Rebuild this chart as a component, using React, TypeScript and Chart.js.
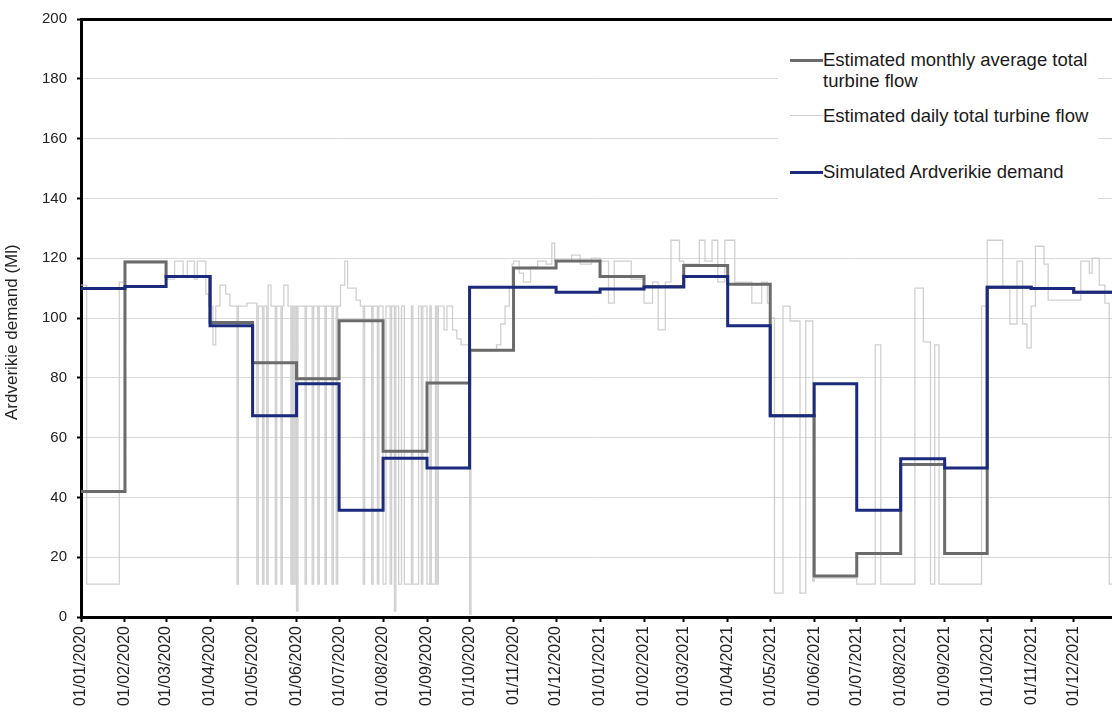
import { useEffect, useRef } from 'react';
import { Chart, registerables } from 'chart.js';

Chart.register(...registerables);

const FONT = "'Liberation Sans', Arial, sans-serif";

// month starts shown on the x axis
const tickLabels = [
  '01/01/2020', '01/02/2020', '01/03/2020', '01/04/2020', '01/05/2020', '01/06/2020',
  '01/07/2020', '01/08/2020', '01/09/2020', '01/10/2020', '01/11/2020', '01/12/2020',
  '01/01/2021', '01/02/2021', '01/03/2021', '01/04/2021', '01/05/2021', '01/06/2021',
  '01/07/2021', '01/08/2021', '01/09/2021', '01/10/2021', '01/11/2021', '01/12/2021',
];

// one value per month (Ml)
const monthlyAverageFlow = [
  42, 118.7, 113.9, 98.5, 85, 79.7, 99.1, 55.4, 78.3, 89.2, 116.7, 119.1,
  113.9, 110.5, 117.6, 111.3, 67.3, 13.7, 21.2, 51, 21.2, 110.3, 109.9, 108.6,
];
const simulatedDemand = [
  109.9, 110.5, 113.9, 97.4, 67.3, 78, 35.7, 53.1, 49.8, 110.3, 110.3, 108.6,
  109.7, 110.4, 113.9, 97.4, 67.3, 78, 35.7, 52.9, 49.8, 110.3, 109.9, 108.6,
];

// daily flow, stored as the day (since 01/01/2020) where the value changes and the new value
const dailyChangeDays = [
  0, 4, 27, 31, 60, 66, 72, 75, 80, 82, 88, 90,
  93, 95, 98, 102, 105, 110, 111, 117,
  124, 125, 128, 129, 131, 132, 134, 137, 138, 141, 142, 143, 146, 148, 149, 150, 151,
  152, 153, 158, 159, 163, 164, 167, 168, 172, 173, 177, 178, 180, 181,
  183, 186, 188, 194, 197, 199, 200, 205, 206, 209, 210,
  213, 215, 218, 219, 221, 222, 224, 226, 228, 233, 234, 238, 240, 241,
  244, 246, 247, 250, 251, 252, 256, 258, 262, 265, 268,
  274, 275, 293, 296, 299, 302, 304,
  305, 309, 312, 317, 322, 328, 332, 334, 346, 352, 360,
  366, 372, 376, 388,
  397, 403, 407, 412, 416, 422,
  425, 436, 440, 445, 449, 454,
  461, 473, 480, 484,
  486, 489, 495, 500, 507, 511, 516, 517,
  547, 560, 564,
  588, 594, 599, 602, 605,
  635, 639, 650, 655, 660, 664, 667, 670,
  673, 679, 682,
  705, 711, 713, 718, 722, 725, 727,
];
const dailyTotalFlow = [
  111, 11, 112, 119, 113, 119, 114, 119, 113, 119, 108, 104,
  91, 104, 111, 108, 104, 11, 104, 105,
  11, 104, 11, 104, 11, 111, 104, 11, 104, 11, 104, 111, 104, 11, 104, 11, 104,
  2, 104, 11, 104, 11, 104, 11, 104, 11, 104, 11, 104, 11, 104,
  111, 119, 110, 106, 104, 11, 104, 11, 104, 11, 104,
  11, 104, 11, 104, 2, 104, 11, 104, 11, 104, 11, 104, 11, 104,
  11, 104, 11, 104, 11, 104, 96, 104, 96, 93, 91,
  1, 89, 91, 98, 104, 110, 118,
  119, 115, 112, 117, 119, 118, 125, 119, 121, 118, 120,
  119, 105, 119, 113,
  105, 112, 96, 112, 126, 119,
  118, 126, 119, 126, 112, 126,
  112, 105, 112, 105,
  100, 8, 104, 99, 8, 99, 12, 13,
  11, 91, 11,
  110, 92, 11, 91, 11,
  104, 126, 110, 98, 119, 98, 90, 104,
  124, 118, 106,
  119, 115, 120, 111, 105, 11, 11,
];

const lastDay = 727;

const dayOf = (label: string) => {
  const [d, m, y] = label.split('/').map(Number);
  return (Date.UTC(y, m - 1, d) - Date.UTC(2020, 0, 1)) / 86400000;
};
const monthStartDays = tickLabels.map(dayOf);

const monthlyPoints = (values: number[]) =>
  values
    .map((y, i) => ({ x: monthStartDays[i], y }))
    .concat({ x: lastDay, y: values[values.length - 1] });

const legendItems = [
  { text: 'Estimated monthly average total turbine flow', color: '#6b6b6b', width: 3, top: 49 },
  { text: 'Estimated daily total turbine flow', color: '#cfcfcf', width: 1.5, top: 105 },
  { text: 'Simulated Ardverikie demand', color: '#1b2a7c', width: 3, top: 161 },
];

const TurbineFlowChart = () => {
  const chartRef = useRef<HTMLCanvasElement>(null);

  useEffect(() => {
    document.body.style.margin = '0';
    const ctx = chartRef.current?.getContext('2d');
    if (!ctx) return;

    const chartInstance = new Chart(ctx, {
      type: 'line',
      data: {
        datasets: [
          {
            label: 'Simulated Ardverikie demand',
            data: monthlyPoints(simulatedDemand),
            borderColor: '#1b2a7c',
            borderWidth: 3,
            stepped: 'before', // value holds until the next month starts
            pointRadius: 0,
            order: 0,
          },
          {
            label: 'Estimated monthly average total turbine flow',
            data: monthlyPoints(monthlyAverageFlow),
            borderColor: '#6b6b6b',
            borderWidth: 3,
            stepped: 'before',
            pointRadius: 0,
            order: 1,
          },
          {
            label: 'Estimated daily total turbine flow',
            data: dailyChangeDays.map((x, i) => ({ x, y: dailyTotalFlow[i] })),
            borderColor: 'rgba(200, 200, 200, 0.85)',
            borderWidth: 1.3,
            stepped: 'before',
            pointRadius: 0,
            order: 2,
          },
        ],
      },
      options: {
        animation: false,
        responsive: true,
        maintainAspectRatio: false,
        layout: { padding: { top: 17, right: 0, bottom: 0, left: 0 } },
        plugins: { legend: { display: false }, tooltip: { enabled: false } },
        scales: {
          x: {
            type: 'linear',
            min: 0,
            max: lastDay,
            bounds: 'data',
            afterBuildTicks: (scale) => {
              scale.ticks = monthStartDays.map((value) => ({ value }));
            },
            afterFit: (scale) => {
              scale.height = 96;
            },
            ticks: {
              autoSkip: false,
              maxRotation: 90,
              minRotation: 90,
              padding: 4,
              color: '#222',
              font: { family: FONT, size: 16 },
              callback: (_v, i) => tickLabels[i],
            },
            grid: { drawOnChartArea: false, drawTicks: true, tickLength: 5, tickColor: '#000', tickWidth: 2 },
            border: { color: '#000', width: 3 },
          },
          y: {
            min: 0,
            max: 200,
            afterFit: (scale) => {
              scale.width = 81;
            },
            ticks: {
              stepSize: 20,
              padding: 10,
              color: '#222',
              font: { family: FONT, size: 15 },
            },
            grid: {
              color: (c) => (c.tick?.value === 200 ? '#000' : '#dadada'),
              lineWidth: (c) => (c.tick?.value === 200 ? 3 : 1),
              tickColor: '#000',
              tickLength: 4,
              tickWidth: 2,
            },
            border: { color: '#000', width: 3 },
            title: {
              display: true,
              text: 'Ardverikie demand (Ml)\u00a0\u00a0\u00a0\u00a0\u00a0\u00a0',
              color: '#222',
              font: { family: FONT, size: 17 },
              padding: { top: 2, bottom: 0 },
            },
          },
        },
      },
    });

    return () => chartInstance.destroy();
  }, []);

  return (
    <div style={{ position: 'relative', width: 1112, height: 713, background: '#fff', fontFamily: FONT }}>
      <canvas ref={chartRef} />

      {/* legend box, sits over the grid lines like the original */}
      <div style={{ position: 'absolute', left: 778, top: 30, width: 320, height: 182, background: '#fff' }} />
      {legendItems.map((item) => (
        <div
          key={item.text}
          style={{ position: 'absolute', left: 790, top: item.top, display: 'flex', alignItems: 'flex-start' }}
        >
          <span
            style={{
              display: 'inline-block',
              width: 33,
              height: 0,
              marginTop: 11 - item.width / 2,
              borderTop: `${item.width}px solid ${item.color}`,
            }}
          />
          <span style={{ width: 275, fontSize: 18.5, lineHeight: '21px', color: '#1a1a1a' }}>{item.text}</span>
        </div>
      ))}
    </div>
  );
};

export default function App() {
  return <TurbineFlowChart />;
}
